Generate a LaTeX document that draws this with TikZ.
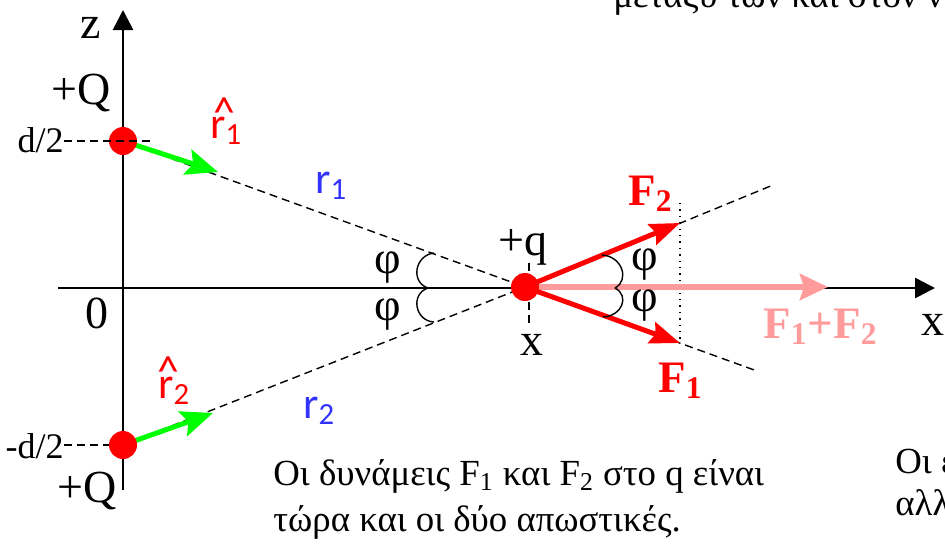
\documentclass[tikz,border=0pt]{standalone}
\usepackage{fontspec}
\setmainfont{Liberation Serif}
\newfontfamily\calibri{Carlito}
\usepackage{tikz}
\usetikzlibrary{arrows.meta,positioning}
\definecolor{qred}{RGB}{255,0,0}
\definecolor{vgreen}{RGB}{0,255,0}
\definecolor{rblue}{RGB}{51,51,255}
\definecolor{fpink}{RGB}{255,155,155}

\begin{document}
\begin{tikzpicture}[
    x=0.5pt, y=-0.5pt,
    axis/.style={line width=1.3pt, -{Triangle[length=10pt,width=10pt]}},
    guide/.style={line width=0.7pt, dash pattern=on 4pt off 2.5pt},
    dotline/.style={line width=0.7pt, dash pattern=on 0.7pt off 2.5pt},
    charge/.style={circle, fill=qred, minimum size=14pt, inner sep=0pt},
    unitvec/.style={vgreen, line width=2.5pt, -{Stealth[length=16pt,width=13pt,inset=3pt]}},
    force/.style={qred, line width=2.5pt, -{Stealth[length=15pt,width=11pt,inset=2pt]}},
    sumforce/.style={fpink, line width=3pt, -{Stealth[length=14pt,width=13pt,inset=2pt]}},
    brace/.style={line width=0.7pt},
    lbl/.style={inner sep=0pt, font=\fontsize{23}{27}\selectfont},
    small/.style={inner sep=0pt, font=\fontsize{18}{22}\selectfont},
    rlbl/.style={inner sep=0pt, font=\calibri\fontsize{22}{26}\selectfont},
    flbl/.style={inner sep=0pt, anchor=base west, font=\bfseries\fontsize{22.5}{26}\selectfont},
    note/.style={inner sep=0pt, anchor=base west, font=\fontsize{18.4}{22}\selectfont}
]
    \useasboundingbox (0,0) rectangle (945,543);
    \clip (0,0) rectangle (945,543);

    \coordinate (Qup) at (123,141);
    \coordinate (Qdn) at (123,445);
    \coordinate (qc) at (525,287);
    \coordinate (zbot) at (123,490);
    \coordinate (ztop) at (123,10);
    \coordinate (xleft) at (58,288);
    \coordinate (xright) at (935,288);
    \coordinate (ext1) at (757,371);
    \coordinate (ext2) at (773,185);
    \coordinate (r1tip) at (218,172);
    \coordinate (r2tip) at (213,413);
    \coordinate (F1tip) at (680,343);
    \coordinate (F2tip) at (680,223);
    \coordinate (Fsum) at (828,287);
    \coordinate (dottop) at (680,203);
    \coordinate (ticktop) at (529,263);
    \coordinate (tickbot) at (529,323);
    \coordinate (dupend) at (150,141);

    \draw[axis] (zbot) -- (ztop);
    \draw[axis] (xleft) -- (xright);
    \draw[guide] (Qup) -- (qc) -- (ext1);
    \draw[guide] (Qdn) -- (qc) -- (ext2);
    \draw[guide] (ticktop) -- (tickbot);
    \draw[dotline] (dottop) -- (F1tip);

    \draw[sumforce] (qc) -- (Fsum);
    \draw[force] (qc) -- (F2tip);
    \draw[force] (qc) -- (F1tip);
    \draw[unitvec] (Qup) -- (r1tip);
    \draw[unitvec] (Qdn) -- (r2tip);

    \node[charge] (Q1) at (Qup) {};
    \node[charge] (Q2) at (Qdn) {};
    \node[charge] (q) at (qc) {};

    \node[small, anchor=base east] (dup) at (64,152) {d/2};
    \node[small, anchor=base east] (ddn) at (64,458) {-d/2};
    \draw[guide] (dup.east |- Qup) -- (dupend);
    \draw[guide] (ddn.east |- Qdn) -- (Q2.west);

    \draw[brace] (434,253) .. controls (415,255) and (410,282) .. (428,288);
    \draw[brace] (428,288) .. controls (410,294) and (415,321) .. (434,322);
    \draw[brace] (602,255) .. controls (622,256) and (630,280) .. (615,288);
    \draw[brace] (615,288) .. controls (630,296) and (622,316) .. (603,317);

    \node[lbl, anchor=base] (zlab) at (91,38) {z};
    \node[lbl, anchor=base] (Qlab1) at (81,104) {+Q};
    \node[lbl, anchor=base] (Qlab2) at (87,502) {+Q};
    \node[lbl, anchor=base] (olab) at (97,328) {0};
    \node[lbl, anchor=base] (qlab) at (523,255) {+q};
    \node[lbl, anchor=base] (xq) at (532,355) {x};
    \node[lbl, anchor=base] (xlab) at (933,335) {x};
    \node[lbl] (phi1) at (388,268) {φ};
    \node[lbl] (phi2) at (388,315) {φ};
    \node[lbl] (phi3) at (645,265) {φ};
    \node[lbl] (phi4) at (645,306) {φ};

    \node[rlbl, qred, anchor=base west] (rh1) at (210,138) {r\textsubscript{1}};
    \node[rlbl, qred, anchor=base] (hat1) at (224,127) {\textasciicircum};
    \node[rlbl, qred, anchor=base west] (rh2) at (158,398) {r\textsubscript{2}};
    \node[rlbl, qred, anchor=base] (hat2) at (168,386) {\textasciicircum};
    \node[rlbl, rblue, anchor=base west] (r1lab) at (315,193) {r\textsubscript{1}};
    \node[rlbl, rblue, anchor=base west] (r2lab) at (303,418) {r\textsubscript{2}};

    \node[flbl, qred] (F2lab) at (628,205) {F\textsubscript{2}};
    \node[flbl, qred] (F1lab) at (658,392) {F\textsubscript{1}};
    \node[flbl, fpink] (Fsumlab) at (763,338) {F\textsubscript{1}+F\textsubscript{2}};

    \node[note] (n1) at (273,485) {Οι δυνάμεις F\textsubscript{1} και F\textsubscript{2} στο q είναι};
    \node[note] (n2) at (273,531) {τώρα και οι δύο απωστικές.};
    \node[note] (m1) at (895,473) {Οι ε};
    \node[note] (m2) at (895,515) {αλλά};
    \node[note] (top) at (613,7) {μεταξύ των και στον ν};
\end{tikzpicture}
\end{document}
